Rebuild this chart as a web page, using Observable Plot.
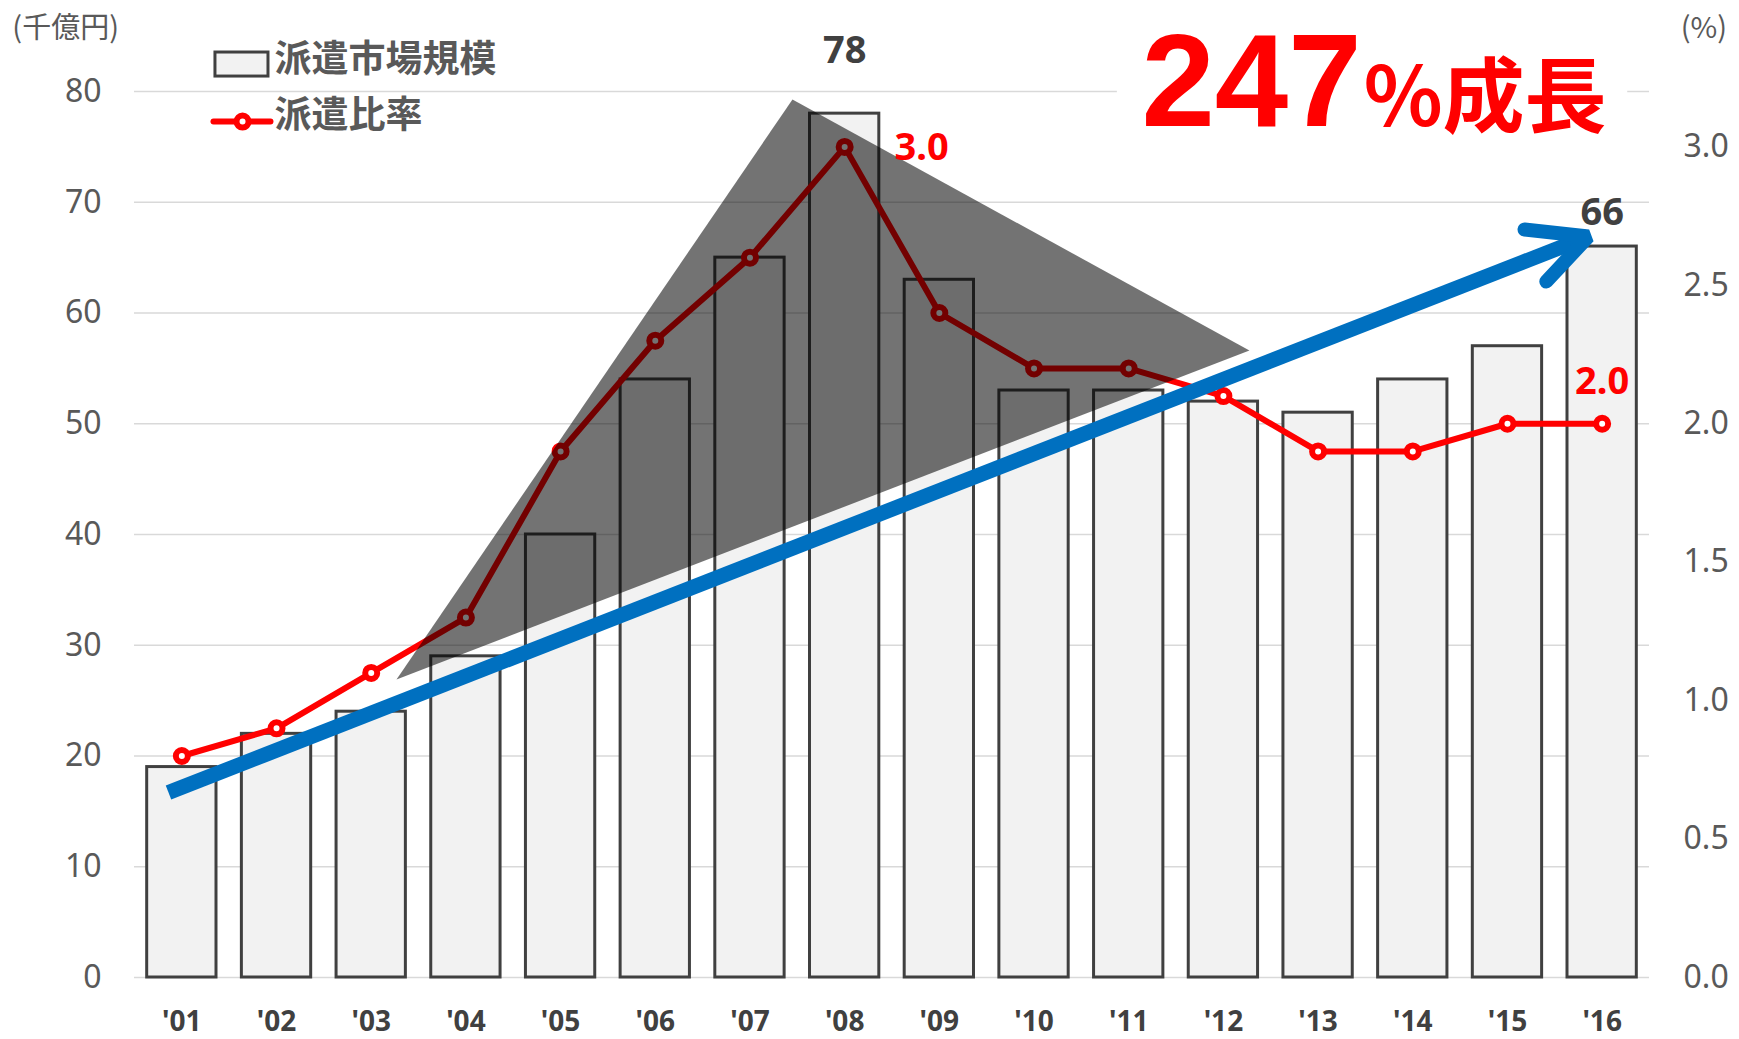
<!DOCTYPE html>
<html>
<head>
<meta charset="utf-8">
<script src="https://cdn.jsdelivr.net/npm/d3@7"></script>
<script src="https://cdn.jsdelivr.net/npm/@observablehq/plot@0.6"></script>
<style>
  html, body { margin: 0; padding: 0; background: #fff; }
</style>
</head>
<body>
<div id="chart"></div>
<script>
// ---- data ----
const years = ["'01","'02","'03","'04","'05","'06","'07","'08","'09","'10","'11","'12","'13","'14","'15","'16"];
const marketSize = [19, 22, 24, 29, 40, 54, 65, 78, 63, 53, 53, 52, 51, 54, 57, 66]; // 千億円
const dispatchRatio = [0.8, 0.9, 1.1, 1.3, 1.9, 2.3, 2.6, 3.0, 2.4, 2.2, 2.2, 2.1, 1.9, 1.9, 2.0, 2.0]; // %
const leftTicks = [0, 10, 20, 30, 40, 50, 60, 70, 80];
const rightTicks = [0, 0.5, 1.0, 1.5, 2.0, 2.5, 3.0];
const leftMax = 80, rightMax = 3.2;
const legendLabels = ["派遣市場規模", "派遣比率"];
const growthNumber = "247";
const growthSuffix = "%成長";
const unitLeft = "(千億円)";
const unitRight = "(%)";

// annotation shapes, in data units (x: year index, y: left-axis value)
const peakTriangle = [[7.449, 79.28], [12.275, 56.61], [3.267, 26.91]];
const trendShaft = [[0.859, 16.70], [15.855, 66.91]];
const trendHead = [[15.18, 67.54], [15.855, 66.91], [15.41, 62.84]];

const k = leftMax / rightMax;
const table = years.map((label, j) => ({i: j + 1, label, size: marketSize[j], r: dispatchRatio[j]}));
const jp = "'Noto Sans CJK JP', 'Noto Sans', sans-serif";
const num = "'Noto Sans', 'Open Sans', sans-serif";
const big = "'Liberation Sans', Arial, sans-serif";

const chart = Plot.plot({
  width: 1739,
  height: 1039,
  marginLeft: 134,
  marginRight: 90,
  marginTop: 91,
  marginBottom: 62,
  x: {domain: [0.5, 16.5]},
  y: {domain: [0, leftMax]},
  style: {background: "white", fontFamily: num, overflow: "visible"},
  marks: [
    Plot.gridY(leftTicks, {stroke: "#d9d9d9", strokeOpacity: 1, strokeWidth: 1.6}),
    // white box behind the growth title
    Plot.rect([0], {x1: 10.88, x2: 16.27, y1: 75.1, y2: 86.4, fill: "white"}),
    Plot.axisY(leftTicks, {tickSize: 0, tickPadding: 33, fontSize: 32, color: "#595959", label: null, fontFamily: num}),
    Plot.axisX(d3.range(1, 17), {tickSize: 0, tickPadding: 34, tickFormat: i => years[i - 1], fontSize: 28, fontWeight: 700, color: "#404040", label: null, fontFamily: num}),
    Plot.text(rightTicks, {x: 16.5, y: d => d * k, text: d => d.toFixed(1), dx: 34, textAnchor: "start", fontSize: 32, fill: "#595959", fontFamily: num}),
    // bars
    Plot.rectY(table, {x1: d => d.i - 0.366, x2: d => d.i + 0.366, y: "size", fill: "#f2f2f2", stroke: "#404040", strokeWidth: 3}),
    // ratio line
    Plot.line(table, {x: "i", y: d => d.r * k, stroke: "#ff0000", strokeWidth: 6}),
    Plot.dot(table, {x: "i", y: d => d.r * k, r: 6, fill: "white", stroke: "#ff0000", strokeWidth: 6}),
    // peak triangle
    Plot.line(peakTriangle, {x: d => d[0], y: d => d[1], fill: "black", fillOpacity: 0.55, stroke: "none"}),
    // glow behind trend arrow
    Plot.line(trendShaft, {x: d => d[0], y: d => d[1], stroke: "white", strokeWidth: 46, strokeOpacity: 0.95, ariaLabel: "glow"}),
    // trend arrow
    Plot.line(trendShaft, {x: d => d[0], y: d => d[1], stroke: "#0070c0", strokeWidth: 15, strokeLinecap: "butt"}),
    Plot.line(trendHead, {x: d => d[0], y: d => d[1], stroke: "#0070c0", strokeWidth: 14, strokeLinecap: "round", strokeLinejoin: "miter"}),
    // data labels
    Plot.text([table[7]], {x: "i", y: 82.53, text: d => String(d.size), lineAnchor: "bottom", fontSize: 38, fontWeight: 700, fill: "#404040", fontFamily: num}),
    Plot.text([table[15]], {x: "i", y: 67.99, text: d => String(d.size), lineAnchor: "bottom", fontSize: 38, fontWeight: 700, fill: "#404040", fontFamily: num}),
    Plot.text([table[7]], {x: 8.526, y: 73.86, text: d => d.r.toFixed(1), lineAnchor: "bottom", textAnchor: "start", fontSize: 38, fontWeight: 700, fill: "#ff0000", fontFamily: num}),
    Plot.text([table[15]], {x: "i", y: 52.7, text: d => d.r.toFixed(1), lineAnchor: "bottom", fontSize: 38, fontWeight: 700, fill: "#ff0000", fontFamily: num}),
    // growth title
    Plot.text([growthNumber], {x: 13.46, y: 76.9, text: d => d, lineAnchor: "bottom", textAnchor: "end", fontSize: 132, fontWeight: 700, fill: "#ff0000", fontFamily: big}),
    Plot.text([growthSuffix], {x: 13.46, y: 76.9, text: d => d, lineAnchor: "bottom", textAnchor: "start", dx: 2, fontSize: 82, fontWeight: 700, fill: "#ff0000", fontFamily: jp}),
    // unit labels
    Plot.text([unitLeft], {x: -0.79, y: 84.79, text: d => d, lineAnchor: "bottom", textAnchor: "start", fontSize: 29, fill: "#595959", fontFamily: jp}),
    Plot.text([unitRight], {x: 16.83, y: 84.79, text: d => d, lineAnchor: "bottom", textAnchor: "start", fontSize: 29, fill: "#595959", fontFamily: jp}),
    // legend
    Plot.rect([0], {x1: 1.355, x2: 1.915, y1: 81.35, y2: 83.52, fill: "#f2f2f2", stroke: "#404040", strokeWidth: 3}),
    Plot.line([[1.334, 77.29], [1.936, 77.29]], {x: d => d[0], y: d => d[1], stroke: "#ff0000", strokeWidth: 6}),
    Plot.dot([[1.641, 77.29]], {x: d => d[0], y: d => d[1], r: 6, fill: "white", stroke: "#ff0000", strokeWidth: 6}),
    Plot.text([legendLabels[0]], {x: 1.978, y: 81.74, text: d => d, lineAnchor: "bottom", textAnchor: "start", fontSize: 37, fontWeight: 700, fill: "#595959", fontFamily: jp}),
    Plot.text([legendLabels[1]], {x: 1.978, y: 76.66, text: d => d, lineAnchor: "bottom", textAnchor: "start", fontSize: 37, fontWeight: 700, fill: "#595959", fontFamily: jp})
  ]
});

document.getElementById("chart").appendChild(chart);
const svg = d3.select(chart);
svg.insert("defs", ":first-child").html('<filter id="glowblur" filterUnits="userSpaceOnUse" x="0" y="0" width="1739" height="1039"><feGaussianBlur stdDeviation="5"/></filter>');
svg.selectAll('g[aria-label="glow"]').attr("filter", "url(#glowblur)");
</script>
</body>
</html>
